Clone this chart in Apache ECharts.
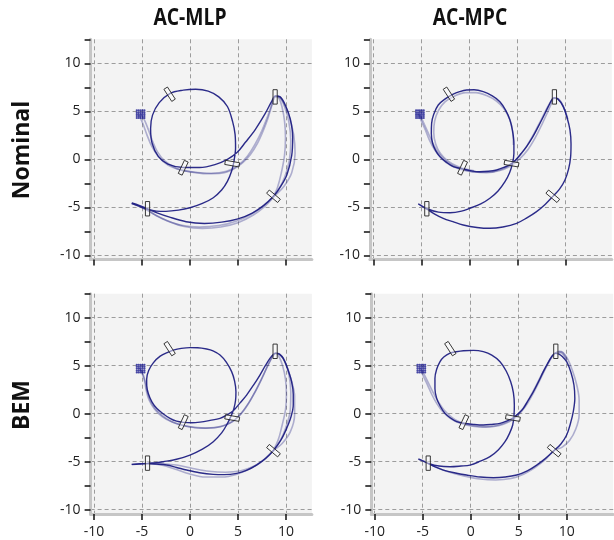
<!DOCTYPE html>
<html><head><meta charset="utf-8">
<script src="https://cdn.jsdelivr.net/npm/echarts@6/dist/echarts.min.js"></script>
<style>html,body{margin:0;padding:0;background:#fff}#c{width:614px;height:540px}</style>
</head><body><div id="c"></div>
<script>
// ---------- data ----------
const colTitles = ['AC-MLP', 'AC-MPC'];
const rowTitles = ['Nominal', 'BEM'];
const xTickValues = [-10, -5, 0, 5, 10];
const yTickValues = [-10, -7.5, -5, -2.5, 0, 2.5, 5, 7.5, 10, 12.5];
const yLabelValues = [-10, -5, 0, 5, 10];

// gates: centre x, centre y, long-axis angle (deg)
const gateX = [-4.42, 8.7, 8.87, 4.4, -0.7, -2.12];
const gateY = [-5.15, -3.85, 6.5, -0.45, -0.88, 6.78];
const gateAngle = [90, -40, 90, -10, 65, -57];

// initial positions grid
const startX = [-5.54, -5.34, -5.14, -4.94, -4.74];
const startY = [4.3, 4.5, 4.7, 4.9, 5.1];

// ---- AC-MLP Nominal ----
const tlMain = [[-6.08,-4.58],[-5.2,-4.9],[-4.44,-5.2],[-3.5,-5.4],[-2.5,-5.42],[-1.2,-5.3],[0,-5.05],[1.3,-4.6],[2.43,-4.0],[3.3,-3.2],[3.9,-2.3],[4.35,-1.2],[4.6,-0.1],[4.75,1.2],[4.7,2.6],[4.45,3.9],[3.9,5.5],[3.0,6.5],[1.9,7.1],[0.6,7.3],[-0.7,7.2],[-2.1,6.85],[-3.2,5.9],[-3.9,4.6],[-4.1,3.2],[-3.95,1.7],[-3.3,0.3],[-2.3,-0.5],[-0.7,-0.85],[1.0,-0.85],[2.6,-0.55],[3.9,0.0],[4.9,0.7],[5.8,1.8],[6.8,3.1],[7.8,4.7],[8.5,6.0],[8.9,6.6],[9.4,6.5],[9.95,5.6],[10.45,4.2],[10.7,2.3],[10.6,0.4],[10.1,-1.6],[9.4,-2.9],[8.7,-3.85],[7.7,-4.8],[6.5,-5.6],[5.0,-6.2],[3.3,-6.55],[1.5,-6.68],[-0.4,-6.5],[-2.2,-6.0],[-3.5,-5.55],[-4.44,-5.15],[-5.3,-4.8],[-6.05,-4.55]];
const tlLap1a = [[-5.14,4.79],[-4.7,4.0],[-4.3,3.0],[-3.9,1.9],[-3.4,0.8],[-2.6,-0.2],[-1.4,-0.95],[0,-1.3],[1.7,-1.5],[3.3,-1.45],[4.5,-1.05],[5.5,-0.35],[6.3,0.5],[7.0,1.6],[7.6,2.9],[8.1,4.2],[8.5,5.5],[8.8,6.4],[9.2,6.55],[9.7,6.0],[10.3,4.6],[10.8,2.6],[10.95,0.6],[10.6,-1.4],[9.8,-2.8],[8.75,-3.9],[7.8,-4.9],[6.6,-5.8],[5.0,-6.6],[3.2,-7.05],[1.3,-7.2],[-0.6,-7.0],[-2.4,-6.4],[-3.6,-5.8],[-4.44,-5.3],[-5.3,-4.9],[-6.05,-4.6]];
const tlLap1b = [[-5.3,4.6],[-4.9,3.7],[-4.5,2.6],[-4.0,1.4],[-3.3,0.3],[-2.3,-0.6],[-1.0,-1.1],[0.5,-1.35],[2.2,-1.45],[3.8,-1.25],[5.0,-0.65],[6.0,0.35],[6.8,1.6],[7.5,3.0],[8.1,4.5],[8.6,5.9],[8.9,6.55],[9.4,6.4],[9.85,5.5],[10.3,3.9],[10.5,1.9],[10.35,-0.1],[9.85,-1.9],[9.2,-3.2],[8.7,-3.85],[7.6,-4.85],[6.3,-5.75],[4.8,-6.45],[3.0,-6.9],[1.0,-7.05],[-1.0,-6.85],[-2.7,-6.25],[-3.8,-5.7],[-4.44,-5.3],[-5.3,-4.9],[-6.05,-4.6]];
const tlRight = [[8.9,6.6],[9.3,6.3],[9.6,5.4],[9.85,4.0],[9.95,2.3],[9.85,0.4],[9.5,-1.5],[9.1,-3.0],[8.7,-3.85]];

// ---- AC-MPC Nominal ----
const trMain = [[-5.31,-4.65],[-4.4,-5.15],[-3.2,-5.5],[-2.0,-5.56],[-0.8,-5.4],[0.07,-5.1],[1.2,-4.65],[2.15,-4.06],[3.0,-3.3],[3.72,-2.33],[4.2,-1.4],[4.5,-0.42],[4.65,0.6],[4.65,1.67],[4.5,3.0],[4.24,4.1],[3.8,5.1],[3.19,6.0],[2.4,6.6],[1.46,7.05],[0.5,7.25],[-0.28,7.22],[-1.0,7.05],[-1.67,6.8],[-2.5,6.3],[-3.23,5.66],[-3.7,4.7],[-3.92,3.75],[-3.95,2.7],[-3.82,1.67],[-3.5,0.9],[-3.06,0.28],[-2.4,-0.3],[-1.67,-0.76],[-0.69,-1.0],[0.2,-1.2],[1.11,-1.3],[2.0,-1.25],[2.85,-1.11],[3.6,-0.85],[4.24,-0.55],[4.8,-0.1],[5.4,0.6],[5.97,1.32],[6.6,2.3],[7.19,3.4],[7.7,4.4],[8.23,5.49],[8.55,6.1],[8.8,6.4],[9.2,6.3],[9.79,5.49],[10.2,4.3],[10.49,3.06],[10.6,1.6],[10.56,0.28],[10.35,-1.0],[9.97,-2.15],[9.4,-3.1],[8.68,-3.89],[7.9,-4.7],[7.01,-5.45],[6.0,-6.1],[4.93,-6.67],[3.5,-7.05],[2.15,-7.19],[0.8,-7.1],[-0.63,-6.84],[-1.7,-6.5],[-2.71,-6.15],[-3.6,-5.7],[-4.4,-5.2],[-4.9,-4.9],[-5.31,-4.65]];
const trLoop2 = [[4.6,1.5],[4.5,3.0],[4.2,4.2],[3.6,5.3],[2.8,6.1],[1.8,6.65],[0.7,6.95],[-0.4,6.95],[-1.5,6.6],[-2.5,6.0],[-3.2,5.1],[-3.6,4.0],[-3.7,2.8],[-3.5,1.6],[-3.0,0.6],[-2.2,-0.2],[-1.3,-0.7],[-0.6,-0.95],[0.5,-1.2]];
const trLap1a = [[-5.14,4.62],[-4.75,3.8],[-4.3,2.8],[-3.85,1.8],[-3.3,0.8],[-2.5,-0.1],[-1.5,-0.75],[-0.5,-1.1],[0.8,-1.35],[2.1,-1.35],[3.3,-1.05],[4.3,-0.55],[5.2,0.3],[6.0,1.4],[6.7,2.6],[7.35,3.85],[7.95,5.05],[8.45,5.95],[8.8,6.4],[9.25,6.3],[9.8,5.5],[10.25,4.2]];
const trLap1b = [[-5.3,4.75],[-4.95,3.9],[-4.55,3.0],[-4.15,2.0],[-3.6,1.0],[-2.9,0.1],[-2.0,-0.6],[-0.9,-1.05],[0.4,-1.3],[1.8,-1.4],[3.1,-1.2],[4.2,-0.75],[5.2,0.0],[6.1,1.0],[6.9,2.3],[7.6,3.7],[8.2,5.0],[8.6,5.9],[8.85,6.35],[9.25,6.3],[9.8,5.5],[10.25,4.2]];

// ---- AC-MLP BEM ----
const blMain = [[-6.08,-5.28],[-5.2,-5.22],[-4.41,-5.17],[-3.5,-5.1],[-2.78,-5.0],[-1.4,-4.75],[0,-4.31],[1.3,-3.7],[2.43,-2.92],[3.3,-2.0],[3.82,-1.18],[4.3,-0.2],[4.58,0.56],[4.75,1.4],[4.79,2.29],[4.65,3.4],[4.34,4.38],[3.8,5.35],[3.13,6.11],[2.4,6.55],[1.74,6.74],[0.8,6.87],[0,6.88],[-0.9,6.8],[-1.74,6.63],[-2.2,6.45],[-3.1,6.0],[-3.82,5.3],[-4.3,4.5],[-4.51,3.6],[-4.5,2.9],[-4.34,2.1],[-3.95,1.2],[-3.47,0.56],[-2.8,0.0],[-2.08,-0.49],[-1.4,-0.78],[-0.69,-0.9],[0.2,-0.95],[1.04,-0.88],[2.1,-0.7],[3.13,-0.49],[3.9,-0.1],[4.51,0.3],[5.2,1.1],[5.9,1.94],[6.6,2.95],[7.29,4.03],[7.85,5.0],[8.33,5.76],[8.7,6.2],[8.95,6.3],[9.3,6.2],[9.72,5.76],[10.2,4.6],[10.59,3.33],[10.76,2.0],[10.76,0.9],[10.5,-0.4],[10.07,-1.53],[9.5,-2.7],[8.68,-3.85],[7.9,-4.65],[6.94,-5.35],[5.9,-5.9],[4.86,-6.22],[3.6,-6.35],[2.43,-6.32],[1.0,-6.15],[-0.35,-5.87],[-1.4,-5.6],[-2.43,-5.35],[-3.5,-5.25],[-4.41,-5.2],[-5.3,-5.25],[-6.05,-5.28]];
const blLap1a = [[-5.14,4.65],[-4.85,4.0],[-4.62,3.2],[-4.45,2.3],[-4.1,1.3],[-3.5,0.4],[-2.6,-0.4],[-1.5,-1.0],[-0.1,-1.35],[1.6,-1.5],[3.2,-1.35],[4.4,-0.85],[5.3,0.0],[6.1,1.1],[6.85,2.4],[7.55,3.8],[8.15,5.1],[8.65,6.0],[8.95,6.3],[9.4,6.15],[9.95,5.3],[10.5,3.7],[10.9,1.8],[10.9,-0.1],[10.45,-1.9],[9.6,-3.1],[8.68,-3.85],[7.6,-4.85],[6.3,-5.7],[4.9,-6.3],[3.3,-6.6],[1.6,-6.6],[-0.1,-6.25],[-1.6,-5.75],[-3.0,-5.35],[-4.41,-5.2],[-5.3,-5.25],[-6.05,-5.3]];
const blLap1b = [[-5.3,4.8],[-4.95,4.1],[-4.7,3.3],[-4.55,2.4],[-4.25,1.4],[-3.7,0.5],[-2.9,-0.3],[-1.8,-0.9],[-0.4,-1.3],[1.2,-1.5],[2.9,-1.4],[4.2,-0.95],[5.2,-0.15],[6.0,0.9],[6.75,2.2],[7.45,3.6],[8.05,4.9],[8.55,5.9],[8.9,6.3],[9.35,6.2],[9.85,5.5],[10.3,4.1],[10.5,2.3],[10.45,0.4],[10.0,-1.4],[9.35,-2.9],[8.68,-3.85],[7.8,-4.75],[6.7,-5.45],[5.3,-5.95],[3.7,-6.1],[2.0,-6.0],[0.3,-5.7],[-1.4,-5.35],[-3.0,-5.2],[-4.41,-5.15]];
const blRight = [[8.95,6.3],[9.3,5.9],[9.65,5.0],[9.95,3.6],[10.05,2.0],[9.95,0.4],[9.6,-1.2],[9.2,-2.7],[8.68,-3.85]];

// ---- AC-MPC BEM ----
const brMain = [[-5.45,-4.72],[-4.9,-4.95],[-4.41,-5.17],[-3.3,-5.45],[-2.15,-5.52],[-1.0,-5.45],[-0.07,-5.35],[1.0,-4.95],[2.01,-4.48],[2.9,-3.75],[3.58,-2.92],[4.05,-2.05],[4.38,-1.18],[4.52,-0.1],[4.55,0.9],[4.45,2.2],[4.17,3.33],[3.7,4.45],[3.06,5.42],[2.2,6.1],[1.32,6.46],[0.3,6.6],[-0.76,6.56],[-1.5,6.45],[-2.15,6.3],[-2.8,5.9],[-3.19,5.42],[-3.55,4.6],[-3.72,3.68],[-3.72,2.6],[-3.54,1.6],[-3.15,0.75],[-2.67,0.03],[-2.1,-0.45],[-1.46,-0.83],[-0.76,-1.0],[0.3,-1.12],[1.32,-1.18],[2.2,-1.12],[3.06,-1.01],[3.8,-0.75],[4.44,-0.42],[5.0,0.05],[5.49,0.56],[6.0,1.4],[6.53,2.29],[7.05,3.3],[7.57,4.38],[8.0,5.2],[8.44,5.94],[8.78,6.28],[9.2,6.2],[9.6,5.9],[10.0,5.42],[10.45,4.3],[10.76,2.99],[10.85,1.6],[10.69,0.21],[10.4,-1.0],[10.0,-2.22],[9.4,-3.15],[8.68,-3.85],[7.8,-4.65],[6.88,-5.35],[5.9,-5.95],[4.79,-6.39],[3.6,-6.6],[2.36,-6.67],[1.0,-6.6],[-0.42,-6.39],[-1.7,-6.15],[-2.85,-5.87],[-3.7,-5.55],[-4.41,-5.2],[-4.95,-4.95],[-5.45,-4.72]];
const brOuter = [[8.78,6.28],[9.2,6.5],[9.6,6.4],[10.1,5.7],[10.6,4.5],[11.05,3.0],[11.3,1.4],[11.3,-0.1],[10.95,-1.6],[10.3,-2.8],[9.5,-3.5],[8.68,-3.85],[7.7,-4.85],[6.7,-5.6],[5.5,-6.3],[4.2,-6.75],[2.6,-6.9],[1.0,-6.8],[-0.6,-6.5],[-2.0,-6.15],[-3.3,-5.7],[-4.41,-5.2]];
const brLap1a = [[-5.1,4.65],[-4.7,3.8],[-4.25,2.9],[-3.8,2.0],[-3.35,1.2],[-2.75,0.35],[-2.0,-0.35],[-1.2,-0.85],[0,-1.2],[1.3,-1.35],[2.6,-1.25],[3.7,-0.9],[4.6,-0.35],[5.4,0.5],[6.1,1.6],[6.75,2.8],[7.35,4.0],[7.95,5.1],[8.45,5.95],[8.78,6.28],[9.2,6.45],[9.6,6.35],[10.05,5.6]];
const brLap1b = [[-5.3,4.8],[-4.95,3.95],[-4.5,3.0],[-4.05,2.0],[-3.55,1.1],[-2.9,0.2],[-2.1,-0.5],[-1.1,-1.0],[0.2,-1.3],[1.6,-1.4],[2.9,-1.25],[4.0,-0.85],[4.9,-0.2],[5.7,0.75],[6.4,1.9],[7.05,3.15],[7.65,4.4],[8.2,5.45],[8.6,6.1],[8.9,6.35],[9.35,6.35],[9.9,5.7]];

// ---------- layout ----------
const panels = [
  { left: 90.6, top: 39.3, xMax: 12.7, strong: [tlMain], weak: [tlLap1a, tlLap1b, tlRight], xLabels: false },
  { left: 369.9, top: 39.3, xMax: 14.85, strong: [trMain], weak: [trLoop2, trLap1a, trLap1b], xLabels: false },
  { left: 90.6, top: 293.7, xMax: 12.7, strong: [blMain], weak: [blLap1a, blLap1b, blRight], xLabels: true },
  { left: 371.3, top: 293.7, xMax: 14.85, strong: [brMain], weak: [brOuter, brLap1a, brLap1b], xLabels: true }
];
const X_MIN = -10.35, Y_MIN = -10.44, Y_MAX = 12.5, PX = 9.6;
const LINE_COLOR = '#1a1a80';
const FONT = "'Open Sans', 'Noto Sans', sans-serif";

const grid = [], xAxis = [], yAxis = [], series = [];
const gateData = gateX.map((x, i) => [x, gateY[i], gateAngle[i]]);
const startData = [];
startX.forEach(x => startY.forEach(y => startData.push([x, y])));

panels.forEach((p, i) => {
  grid.push({ left: p.left, top: p.top, width: (p.xMax - X_MIN) * PX, height: (Y_MAX - Y_MIN) * PX,
    show: true, backgroundColor: '#f3f3f3', borderWidth: 0 });
  xAxis.push({ type: 'value', gridIndex: i, min: X_MIN, max: p.xMax,
    axisLine: { show: true, onZero: false, lineStyle: { color: '#c6c6c6', width: 3 } },
    axisTick: { show: true, customValues: xTickValues, length: 6, lineStyle: { color: '#111', width: 1.5 } },
    axisLabel: { show: p.xLabels, customValues: xTickValues, fontSize: 14, color: '#222', margin: 11, fontFamily: FONT },
    splitLine: { show: true, lineStyle: { type: [4, 3], color: '#9c9c9c', width: 1 } } });
  yAxis.push({ type: 'value', gridIndex: i, min: Y_MIN, max: Y_MAX, position: 'left',
    axisLine: { show: true, onZero: false, lineStyle: { color: '#c6c6c6', width: 3 } },
    axisTick: { show: true, customValues: yTickValues, length: 6, lineStyle: { color: '#111', width: 1.5 } },
    axisLabel: { show: true, customValues: yLabelValues, fontSize: 14, color: '#222', margin: 10, fontFamily: FONT },
    splitLine: { show: false } });
  yAxis.push({ type: 'value', gridIndex: i, min: Y_MIN, max: Y_MAX, position: 'right',
    axisLine: { show: false }, axisLabel: { show: false },
    axisTick: { show: false, customValues: yLabelValues },
    splitLine: { show: true, lineStyle: { type: [4, 3], color: '#9c9c9c', width: 1 } } });

  p.weak.forEach(d => series.push({ type: 'line', xAxisIndex: i, yAxisIndex: 2 * i, data: d,
    showSymbol: false, smooth: 0.35, silent: true, z: 2,
    lineStyle: { color: LINE_COLOR, width: 1.6, opacity: 0.32 } }));
  p.strong.forEach(d => series.push({ type: 'line', xAxisIndex: i, yAxisIndex: 2 * i, data: d,
    showSymbol: false, smooth: 0.35, silent: true, z: 3,
    lineStyle: { color: LINE_COLOR, width: 1.4, opacity: 0.92 } }));
  series.push({ type: 'scatter', xAxisIndex: i, yAxisIndex: 2 * i, data: startData, symbolSize: 2.2,
    silent: true, z: 4, itemStyle: { color: '#1a1a90' } });
  series.push({ type: 'custom', xAxisIndex: i, yAxisIndex: 2 * i, data: gateData, silent: true, z: 5,
    renderItem: (params, api) => {
      const cx = api.value(0), cy = api.value(1), a = api.value(2) * Math.PI / 180;
      const L = 0.75, W = 0.22;
      const ux = Math.cos(a), uy = Math.sin(a), vx = -uy, vy = ux;
      const pts = [[L, W], [L, -W], [-L, -W], [-L, W]].map(([s, t]) =>
        api.coord([cx + s * ux + t * vx, cy + s * uy + t * vy]));
      return { type: 'polygon', shape: { points: pts },
        style: { fill: 'rgba(255,255,255,0.45)', stroke: '#222', lineWidth: 0.9 } };
    } });
});

const TITLE_FONT = "bold 23px 'Open Sans', sans-serif";
const graphic = [
  { type: 'text', x: 190, y: 18, scaleX: 0.84, style: { text: colTitles[0], font: TITLE_FONT, fill: '#111', align: 'center', verticalAlign: 'middle' } },
  { type: 'text', x: 470, y: 18, scaleX: 0.84, style: { text: colTitles[1], font: TITLE_FONT, fill: '#111', align: 'center', verticalAlign: 'middle' } },
  { type: 'text', x: 22, y: 150, rotation: Math.PI / 2, style: { text: rowTitles[0], font: TITLE_FONT, fill: '#111', align: 'center', verticalAlign: 'middle' } },
  { type: 'text', x: 22, y: 405, rotation: Math.PI / 2, style: { text: rowTitles[1], font: TITLE_FONT, fill: '#111', align: 'center', verticalAlign: 'middle' } }
];

const chart = echarts.init(document.getElementById('c'), null, { renderer: 'canvas' });
chart.setOption({ backgroundColor: '#fff', animation: false, grid, xAxis, yAxis, series, graphic });
</script></body></html>
